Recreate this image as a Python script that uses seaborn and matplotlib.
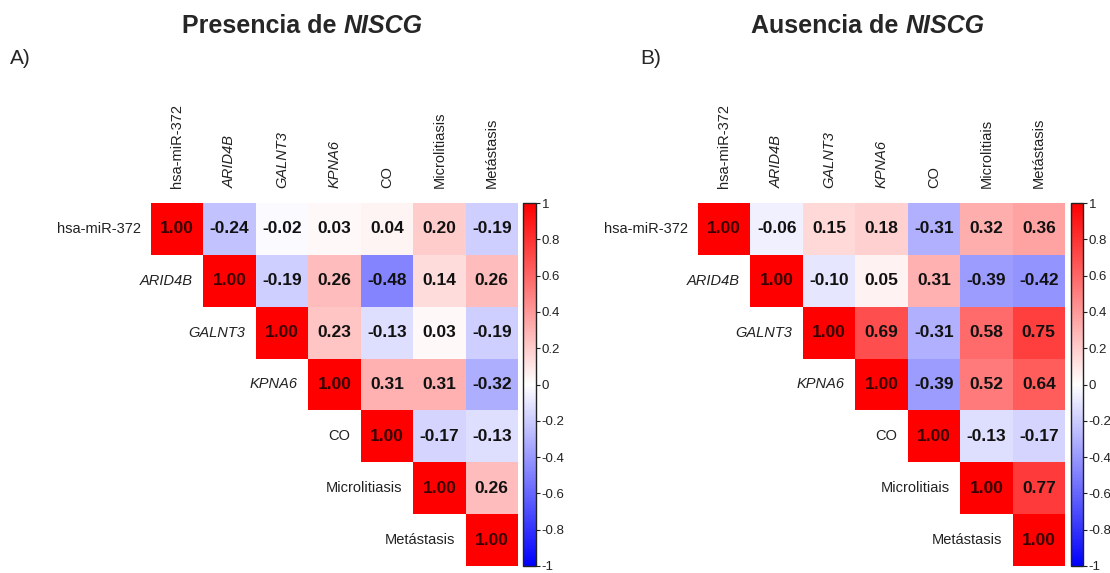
import numpy as np
import pandas as pd
import matplotlib
matplotlib.use("Agg")
import matplotlib.pyplot as plt
import seaborn as sns

sns.set_theme(style="white")
plt.rcParams['font.family'] = ['Liberation Sans', 'DejaVu Sans']

labels_a = ["hsa-miR-372", "ARID4B", "GALNT3", "KPNA6", "CO", "Microlitiasis", "Metástasis"]
labels_b = ["hsa-miR-372", "ARID4B", "GALNT3", "KPNA6", "CO", "Microlitiais", "Metástasis"]
italic_labels = {"ARID4B", "GALNT3", "KPNA6"}

# upper-triangle values, row by row (diagonal included)
upper_a = [
    [1.00, -0.24, -0.02, 0.03, 0.04, 0.20, -0.19],
    [1.00, -0.19, 0.26, -0.48, 0.14, 0.26],
    [1.00, 0.23, -0.13, 0.03, -0.19],
    [1.00, 0.31, 0.31, -0.32],
    [1.00, -0.17, -0.13],
    [1.00, 0.26],
    [1.00],
]
upper_b = [
    [1.00, -0.06, 0.15, 0.18, -0.31, 0.32, 0.36],
    [1.00, -0.10, 0.05, 0.31, -0.39, -0.42],
    [1.00, 0.69, -0.31, 0.58, 0.75],
    [1.00, -0.39, 0.52, 0.64],
    [1.00, -0.13, -0.17],
    [1.00, 0.77],
    [1.00],
]

cbar_ticks = [1, 0.8, 0.6, 0.4, 0.2, 0, -0.2, -0.4, -0.6, -0.8, -1]
cbar_ticklabels = ["1", "0.8", "0.6", "0.4", "0.2", "0", "-0.2", "-0.4", "-0.6", "-0.8", "-1"]


def build_matrix(upper, labels):
    n = len(labels)
    m = np.full((n, n), np.nan)
    for i, row in enumerate(upper):
        for k, v in enumerate(row):
            m[i, i + k] = v
            m[i + k, i] = v
    return pd.DataFrame(m, index=labels, columns=labels)


W, H = 1110, 573
fig = plt.figure(figsize=(W / 100, H / 100), dpi=100)


def px_axes(x0, y0, x1, y1):
    return fig.add_axes([x0 / W, 1 - y1 / H, (x1 - x0) / W, (y1 - y0) / H])


def draw_panel(upper, labels, hm_box, cb_box):
    df = build_matrix(upper, labels)
    n = len(labels)
    mask = np.tril(np.ones((n, n), dtype=bool), k=-1)
    ax = px_axes(*hm_box)
    cax = px_axes(*cb_box)
    sns.heatmap(df, mask=mask, cmap="bwr", vmin=-1, vmax=1, annot=True, fmt=".2f",
                annot_kws={"fontsize": 12.5, "fontweight": "bold", "color": "#111111"},
                cbar_ax=cax, ax=ax, square=False, linewidths=0)
    # diagonal text in dark maroon
    for t in ax.texts:
        if t.get_text() == "1.00":
            t.set_color("#3a0000")
    ax.xaxis.tick_top()
    ax.set_xticks(np.arange(n) + 0.5)
    ax.set_xticklabels(labels, rotation=90, fontsize=10.5, color="#222222")
    for tl in ax.get_xticklabels():
        if tl.get_text() in italic_labels:
            tl.set_fontstyle("italic")
    ax.tick_params(axis="x", length=0, pad=11)
    ax.set_yticks([])
    ax.set_xlabel("")
    ax.set_ylabel("")
    for i, lab in enumerate(labels):
        ax.text(i - 0.2, i + 0.5, lab, ha="right", va="center", fontsize=10.5,
                color="#222222", fontstyle="italic" if lab in italic_labels else "normal")
    # colorbar
    cb = ax.collections[0].colorbar
    cb.set_ticks(cbar_ticks)
    cb.set_ticklabels(cbar_ticklabels)
    cax.tick_params(labelsize=9.5, length=3, width=0.8, pad=1, colors="#222222")
    cb.outline.set_visible(True)
    cb.outline.set_edgecolor("#222222")
    cb.outline.set_linewidth(1.0)
    for s in ax.spines.values():
        s.set_visible(False)
    return ax


draw_panel(upper_a, labels_a, (151, 203, 518, 566), (523, 203, 536, 566))
draw_panel(upper_b, labels_b, (698, 203, 1065, 566), (1071, 203, 1083, 566))


def bold_italic_title(xc, yc, plain, ital, size=18):
    renderer = fig.canvas.get_renderer()
    t1 = fig.text(0, 0, plain, fontsize=size, fontweight="bold", va="center", ha="left")
    t2 = fig.text(0, 0, ital, fontsize=size, fontweight="bold", fontstyle="italic",
                  va="center", ha="left")
    w1 = t1.get_window_extent(renderer).width
    w2 = t2.get_window_extent(renderer).width
    x0 = xc - (w1 + w2) / 2
    t1.set_position((x0 / W, 1 - yc / H))
    t2.set_position(((x0 + w1) / W, 1 - yc / H))


bold_italic_title(302, 26, "Presencia de ", "NISCG")
bold_italic_title(868, 26, "Ausencia de ", "NISCG")

fig.text(10 / W, 1 - 58 / H, "A)", fontsize=15, va="center", ha="left")
fig.text(640 / W, 1 - 58 / H, "B)", fontsize=15, va="center", ha="left")

fig.savefig("out.png", dpi=100)
